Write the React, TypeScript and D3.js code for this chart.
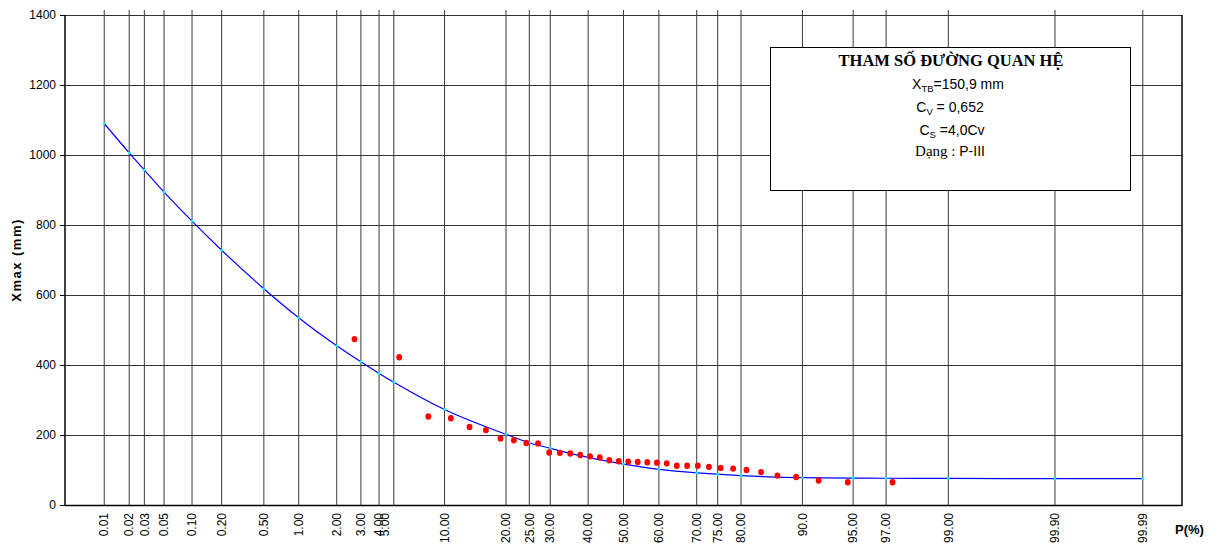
import React from "react";
import * as d3 from "d3";

// Probability grid (P %) and labels
const gridP = [0.01, 0.02, 0.03, 0.05, 0.1, 0.2, 0.5, 1, 2, 3, 4, 5, 10, 20, 25, 30, 40, 50, 60, 70, 75, 80, 90, 95, 97, 99, 99.9, 99.99];
const gridLabels = ["0.01", "0.02", "0.03", "0.05", "0.10", "0.20", "0.50", "1.00", "2.00", "3.00", "4.00", "5.00", "10.00", "20.00", "25.00", "30.00", "40.00", "50.00", "60.00", "70.00", "75.00", "80.00", "90.0", "95.00", "97.00", "99.00", "99.90", "99.99"];

// Theoretical P-III curve values (mm) at the grid probabilities
const curveX = [1090, 1006, 957, 894, 811, 728, 618, 535, 455, 409, 376, 351, 273, 202, 178, 162, 136, 117, 102, 92, 88, 84, 78, 77, 76.5, 76, 75.5, 75.5];

// Observed empirical points
const obsP = [2.70, 5.41, 8.11, 10.81, 13.51, 16.22, 18.92, 21.62, 24.32, 27.03, 29.73, 32.43, 35.14, 37.84, 40.54, 43.24, 45.95, 48.65, 51.35, 54.05, 56.76, 59.46, 62.16, 64.86, 67.57, 70.27, 72.97, 75.68, 78.38, 81.08, 83.78, 86.49, 89.19, 91.89, 94.59, 97.30];
const obsX = [474, 422, 253, 248, 223, 214, 190, 185, 177, 176, 150, 149, 147, 143, 139, 136, 128, 125, 124, 123, 122, 121, 119, 112, 112, 112, 109, 106, 104, 100, 94, 84, 80, 70, 65, 65];

const yTicks = [0, 200, 400, 600, 800, 1000, 1200, 1400];

// inverse normal CDF (Acklam)
function qnorm(p: number): number {
  const a = [-3.969683028665376e1, 2.209460984245205e2, -2.759285104469687e2, 1.38357751867269e2, -3.066479806614716e1, 2.506628277459239];
  const b = [-5.447609879822406e1, 1.615858368580409e2, -1.556989798598866e2, 6.680131188771972e1, -1.328068155288572e1];
  const c = [-7.784894002430293e-3, -3.223964580411365e-1, -2.400758277161838, -2.549732539343734, 4.374664141464968, 2.938163982698783];
  const d = [7.784695709041462e-3, 3.224671290700398e-1, 2.445134137142996, 3.754408661907416];
  const pl = 0.02425;
  if (p < pl) {
    const q = Math.sqrt(-2 * Math.log(p));
    return (((((c[0] * q + c[1]) * q + c[2]) * q + c[3]) * q + c[4]) * q + c[5]) / ((((d[0] * q + d[1]) * q + d[2]) * q + d[3]) * q + 1);
  }
  if (p > 1 - pl) {
    const q = Math.sqrt(-2 * Math.log(1 - p));
    return -(((((c[0] * q + c[1]) * q + c[2]) * q + c[3]) * q + c[4]) * q + c[5]) / ((((d[0] * q + d[1]) * q + d[2]) * q + d[3]) * q + 1);
  }
  const q = p - 0.5;
  const r = q * q;
  return ((((((a[0] * r + a[1]) * r + a[2]) * r + a[3]) * r + a[4]) * r + a[5]) * q) / (((((b[0] * r + b[1]) * r + b[2]) * r + b[3]) * r + b[4]) * r + 1);
}

const W = 1211, H = 552;
const L = 65, R = 1182, T = 15, B = 505;

export default function App() {
  const zx = d3.scaleLinear().domain([-4, 4]).range([L, R]);
  const px = (p: number) => zx(qnorm(p / 100));
  const y = d3.scaleLinear().domain([0, 1400]).range([B, T]);

  const curvePts: [number, number][] = gridP.map((p, i) => [px(p), y(curveX[i])]);
  const line = d3.line<[number, number]>().x((d) => d[0]).y((d) => d[1]).curve(d3.curveMonotoneX);

  const boxL = 770, boxR = 1130, boxT = 47, boxB = 190;
  const cx = (boxL + boxR) / 2;

  return (
    <svg width={W} height={H} style={{ position: "absolute", left: 0, top: 0, background: "#fff" }} fontFamily="Arial, 'Liberation Sans', sans-serif">
      <rect x={0} y={0} width={W} height={H} fill="#fff" />
      {/* horizontal grid */}
      {yTicks.map((t) => (
        <g key={"h" + t}>
          <line x1={L} x2={R} y1={Math.round(y(t)) + 0.5} y2={Math.round(y(t)) + 0.5} stroke="#333" strokeWidth={1} />
          <line x1={L - 5} x2={L} y1={Math.round(y(t)) + 0.5} y2={Math.round(y(t)) + 0.5} stroke="#000" strokeWidth={1} />
          <text x={56} y={y(t)} dy="0.35em" textAnchor="end" fontSize={12} fill="#000">{t}</text>
        </g>
      ))}
      {/* vertical grid */}
      {gridP.map((p, i) => (
        <g key={"v" + i}>
          <line x1={px(p)} x2={px(p)} y1={T - 5} y2={B} stroke="#3a3a3a" strokeWidth={1} />
          <text transform={`translate(${px(p) + (gridLabels[i] === "5.00" ? -9 : 0)},${B + 8}) rotate(-90)`} dy="0.35em" textAnchor="end" fontSize={12} fill="#000">{gridLabels[i]}</text>
        </g>
      ))}
      {/* frame */}
      <line x1={L} x2={L} y1={T} y2={B + 1} stroke="#000" strokeWidth={1.5} />
      <line x1={L} x2={R} y1={B + 0.5} y2={B + 0.5} stroke="#000" strokeWidth={1.5} />
      <line x1={R} x2={R} y1={T} y2={B + 1} stroke="#000" strokeWidth={1.5} />

      {/* parameter box */}
      <rect x={boxL + 0.5} y={boxT + 0.5} width={boxR - boxL} height={boxB - boxT} fill="#fff" stroke="#000" strokeWidth={1} />
      <text x={cx + 1} y={boxT + 19} textAnchor="middle" fontFamily="'Times New Roman', 'Liberation Serif', serif" fontWeight="bold" fontSize={16.5}>THAM SỐ ĐƯỜNG QUAN HỆ</text>
      <text x={cx + 8} y={boxT + 42} textAnchor="middle" fontSize={14}>X<tspan fontSize={9.5} dy={3}>TB</tspan><tspan dy={-3}>=150,9 mm</tspan></text>
      <text x={cx} y={boxT + 65} textAnchor="middle" fontSize={14}>C<tspan fontSize={9.5} dy={3}>V</tspan><tspan dy={-3}> = 0,652</tspan></text>
      <text x={cx + 2} y={boxT + 88} textAnchor="middle" fontSize={14}>C<tspan fontSize={9.5} dy={3}>S</tspan><tspan dy={-3}> =4,0Cv</tspan></text>
      <text x={cx} y={boxT + 109} textAnchor="middle" fontSize={14}><tspan fontFamily="'Times New Roman', 'Liberation Serif', serif" fontSize={15}>Dạng : </tspan>P-III</text>

      {/* curve */}
      <path d={line(curvePts) || ""} fill="none" stroke="#0000ff" strokeWidth={1.2} />
      {curvePts.map((d, i) => (
        <rect key={"c" + i} x={d[0] - 1.2} y={d[1] - 1.2} width={2.4} height={2.4} fill="#00ffff" />
      ))}
      {/* observed */}
      {obsP.map((p, i) => (
        <ellipse key={"o" + i} cx={px(p)} cy={y(obsX[i])} rx={2.9} ry={3.2} fill="#ff0000" />
      ))}

      {/* axis titles */}
      <text transform={`translate(21,${(T + B) / 2}) rotate(-90)`} textAnchor="middle" fontWeight="bold" fontSize={13} letterSpacing={1.5}>Xmax (mm)</text>
      <text x={1175} y={534} fontWeight="bold" fontSize={13}>P(%)</text>
    </svg>
  );
}
